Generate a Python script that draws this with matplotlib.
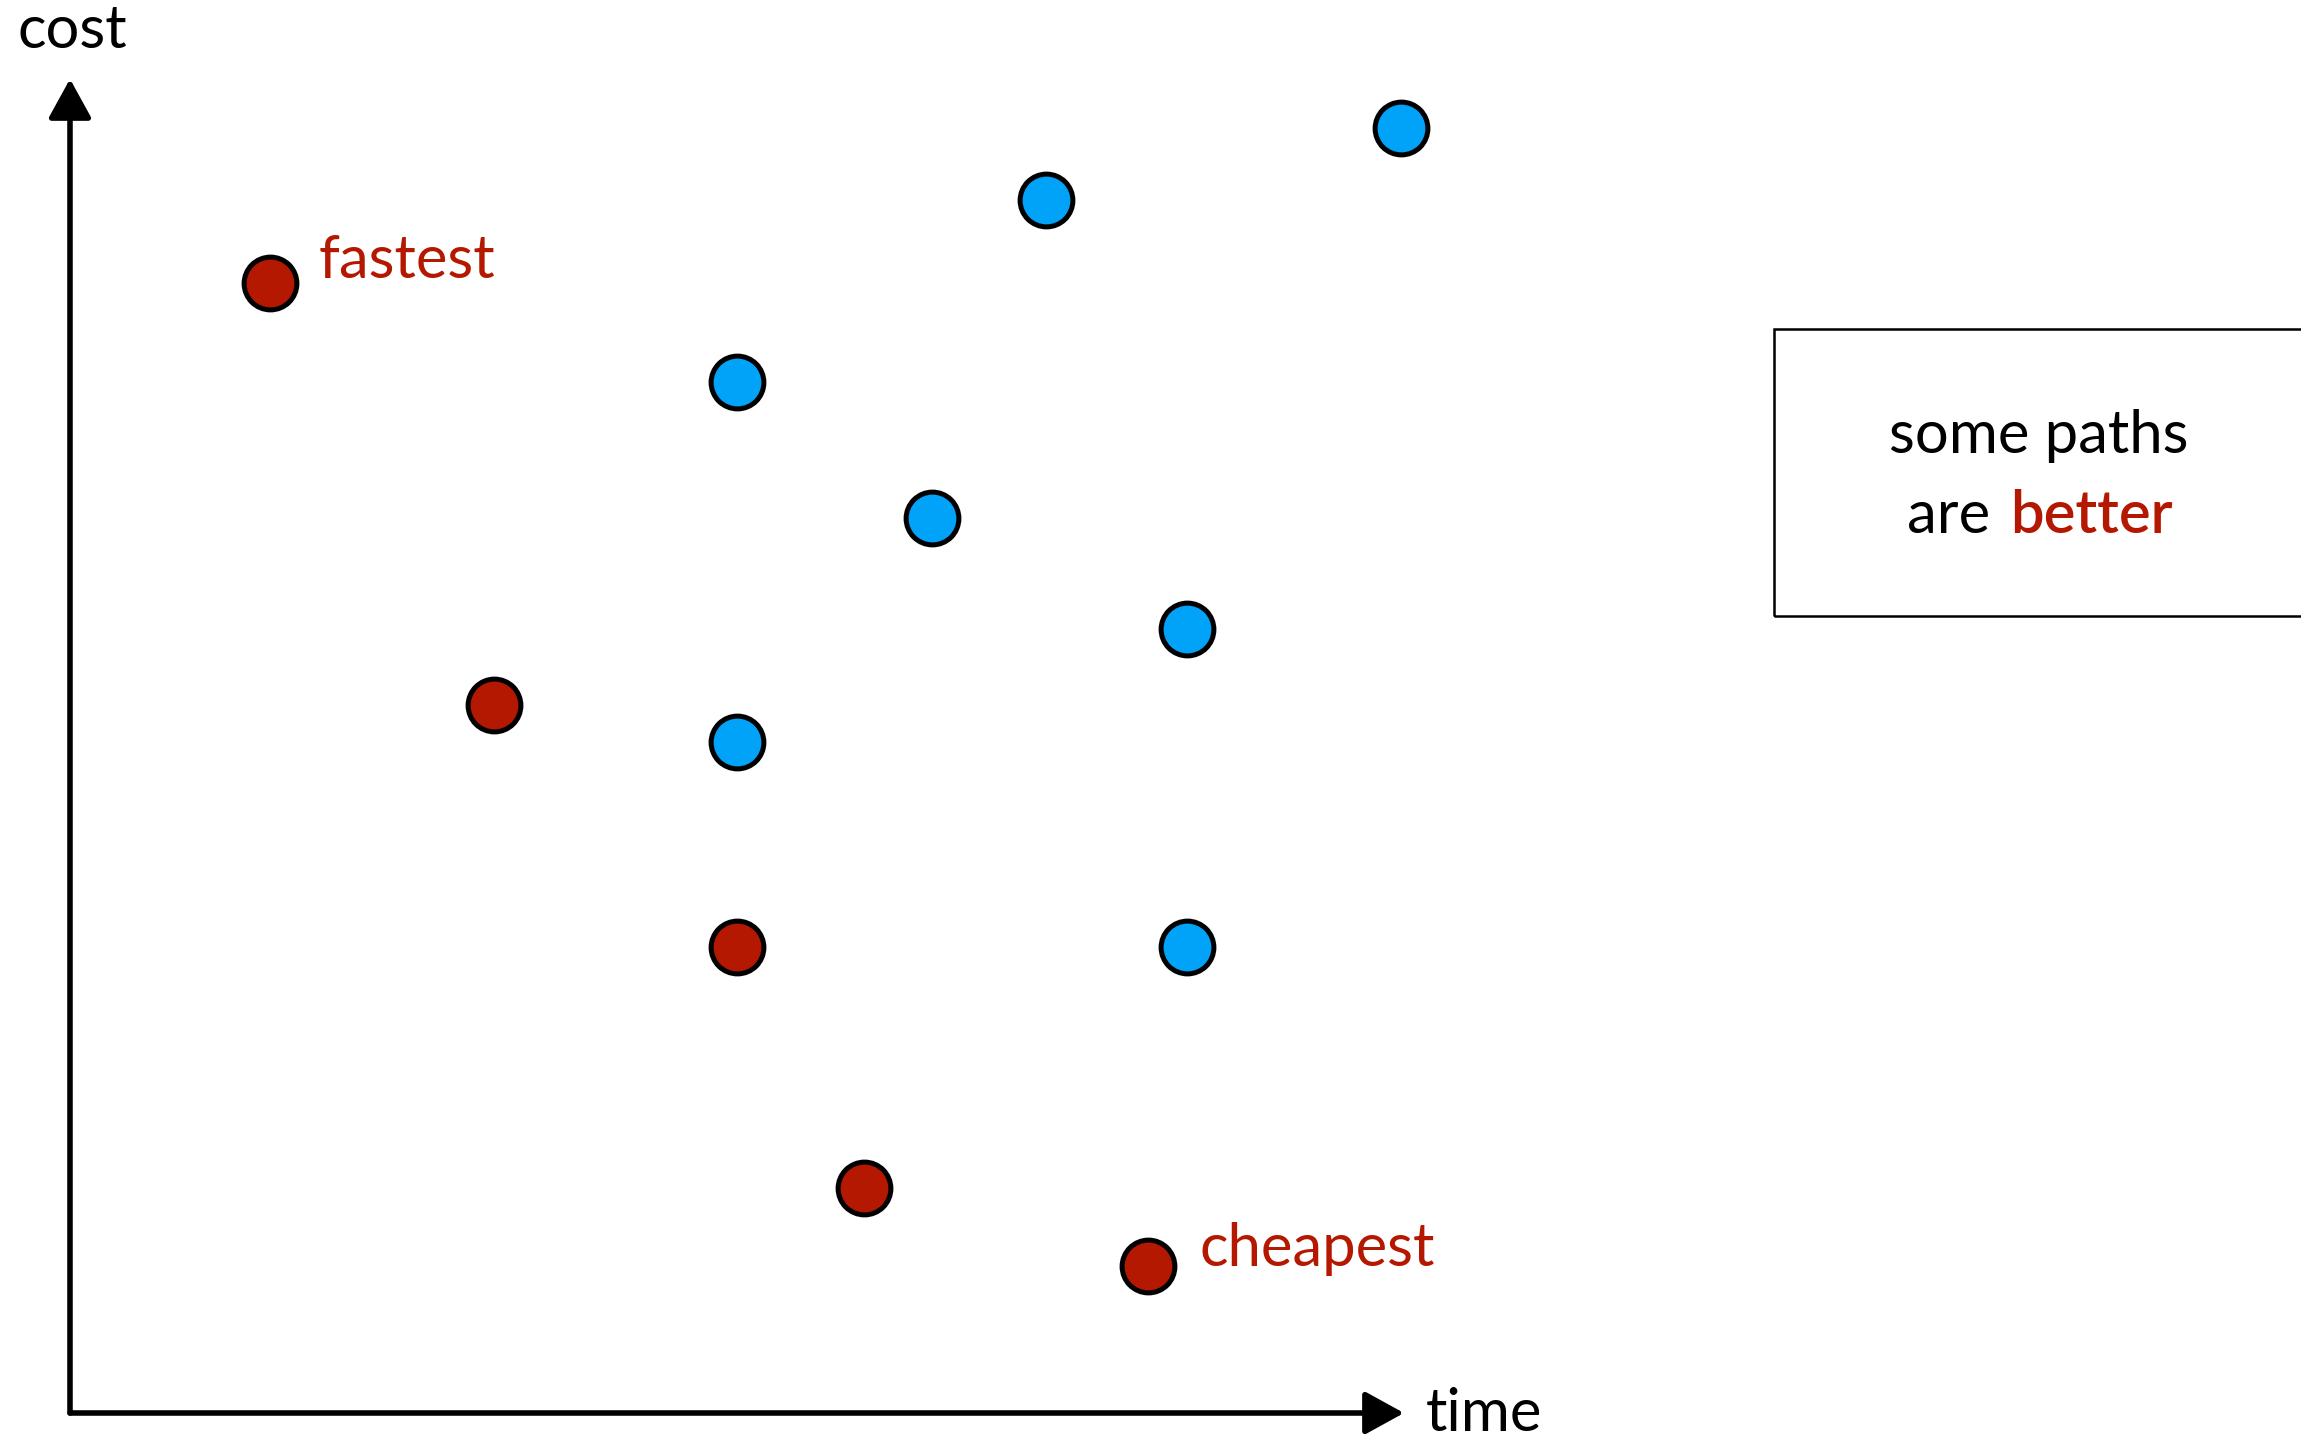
import matplotlib
matplotlib.use("Agg")
import matplotlib.pyplot as plt
from matplotlib.patches import Rectangle

plt.rcParams['font.family'] = ['Lato', 'DejaVu Sans']

# path options: time vs cost (arbitrary units, 0-100 axes)
red_time = [15.0, 31.8, 50.0, 59.5, 80.8]
red_cost = [84.7, 53.1, 34.9, 16.9, 11.0]
blue_time = [99.8, 73.2, 50.0, 64.6, 83.7, 50.0, 83.7]
blue_cost = [96.3, 90.9, 77.3, 67.1, 58.8, 50.3, 34.9]
point_labels = {0: ('fastest', (35, 4)), 4: ('cheapest', (37, 0))}

RED = '#B41800'
BLUE = '#00A3F7'
FS = 43

fig = plt.figure(figsize=(23.01, 14.36), dpi=100)
ax = fig.add_axes([0, 0, 1, 1])
ax.set_xlim(-5.247, 167.24)
ax.set_ylim(-1.724, 105.92)
ax.axis('off')

# axes arrows
arrow = dict(arrowstyle='-|>,head_length=0.4,head_width=0.22', lw=4,
             color='black', mutation_scale=60, shrinkA=0, shrinkB=0)
ax.annotate('', xy=(100, 0), xytext=(0, 0), arrowprops=arrow)
ax.annotate('', xy=(0, 100), xytext=(0, 0), arrowprops=arrow)
ax.text(101.6, -1.35, 'time', fontsize=FS, ha='left', va='baseline')
ax.text(-3.9, 102.3, 'cost', fontsize=FS, ha='left', va='baseline')

ax.plot(blue_time, blue_cost, 'o', ms=38, mfc=BLUE, mec='black', mew=3.6, zorder=3)
ax.plot(red_time, red_cost, 'o', ms=38, mfc=RED, mec='black', mew=3.6, zorder=3)

for i, (lab, off) in point_labels.items():
    ax.annotate(lab, xy=(red_time[i], red_cost[i]), xytext=off,
                textcoords='offset points', color=RED, fontsize=FS,
                ha='left', va='baseline')

# note box
ax.add_patch(Rectangle((127.7, 59.75), 60, 21.5, fill=False, lw=1.8,
                       ec='black', clip_on=True))
ax.text(147.6, 71.96, 'some paths', fontsize=FS, ha='center', va='baseline')
ax.text(143.9, 65.97, 'are', fontsize=FS, ha='right', va='baseline')
ax.text(145.4, 65.97, 'better', fontsize=FS, ha='left', va='baseline',
        color=RED, fontweight='semibold')

fig.savefig('out.png', dpi=100)
